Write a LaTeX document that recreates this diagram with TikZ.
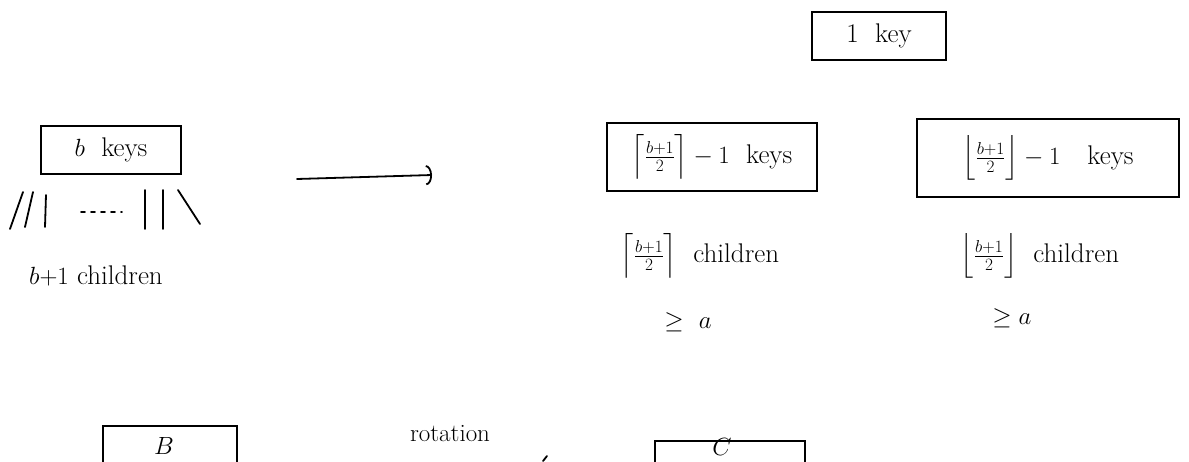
\documentclass[tikz,border=0pt]{standalone}
\usepackage{amsmath}
\usepackage{tikz}
\usetikzlibrary{positioning, arrows.meta}

\begin{document}
\begin{tikzpicture}[
            x=1pt, y=-1pt,
            % --- Styles for the nodes ---
            keybox/.style={
                draw, line width=2pt, rectangle, inner sep=0pt, font=\fontsize{27}{32}\selectfont
            },
            note/.style={font=\fontsize{27}{32}\selectfont, align=center},
            stroke/.style={line width=1.8pt, line cap=round}
        ]

        % --- Page frame ---
        \useasboundingbox (0,0) rectangle (1189,461);
        \clip (0,0) rectangle (1189,461);

        % --- Node before the split ---
        \node[keybox, minimum width=140pt, minimum height=48pt] (full) at (111,150) {$b$\ \ keys};
        \foreach \xa/\ya/\xb/\yb in {10/229/23/192, 25/227/33/192, 45/227/46/195,
                                     145/229/145/190, 163/229/163/190, 178/190/200/224} {
            \draw[stroke] (\xa,\ya) -- (\xb,\yb);
        }
        \draw[stroke, dash pattern=on 4pt off 6pt] (81,212) -- (122,212);
        \node[note] (fullkids) at (96,276) {$b{+}1$ children};

        % --- Split arrow ---
        \coordinate (arrfrom) at (297,179);
        \coordinate (arrto) at (432,175);
        \draw[stroke, -{Arc Barb[length=6pt, width=20pt]}] (arrfrom) -- (arrto);

        % --- Key pushed up to the parent ---
        \node[keybox, minimum width=134pt, minimum height=48pt] (upkey) at (879,36) {1\ \ key};

        % --- Left half ---
        \node[keybox, minimum width=210pt, minimum height=68pt] (left) at (712,157)
            {$\Bigl\lceil\frac{b+1}{2}\Bigr\rceil-1$\ \ keys};
        \node[note] (leftkids) at (700,256) {$\Bigl\lceil\frac{b+1}{2}\Bigr\rceil$\ \ children};
        \node[note] (leftmin) at (688,322) {$\geq\ a$};

        % --- Right half ---
        \node[keybox, minimum width=262pt, minimum height=78pt] (right) at (1048,158)
            {$\Bigl\lfloor\frac{b+1}{2}\Bigr\rfloor-1$\quad keys};
        \node[note] (rightkids) at (1040,256) {$\Bigl\lfloor\frac{b+1}{2}\Bigr\rfloor$\ \ children};
        \node[note] (rightmin) at (1012,318) {$\geq a$};

        % --- Rotation case ---
        \node[keybox, minimum width=134pt, minimum height=70pt, anchor=north] (sib) at (170,425) {};
        \node[note, inner sep=0pt, anchor=south] at (164,455) {$B$};
        \node[note, font=\fontsize{25}{30}\selectfont] (rot) at (450,434) {rotation};
        \coordinate (rotfrom) at (543,461);
        \coordinate (rotto) at (547,456);
        \draw[stroke] (rotfrom) -- (rotto);
        \node[keybox, minimum width=150pt, minimum height=70pt, anchor=north] (par) at (730,440) {};
        \node[note, inner sep=0pt, anchor=south] at (722,456) {$C$};

        \end{tikzpicture}
\end{document}
